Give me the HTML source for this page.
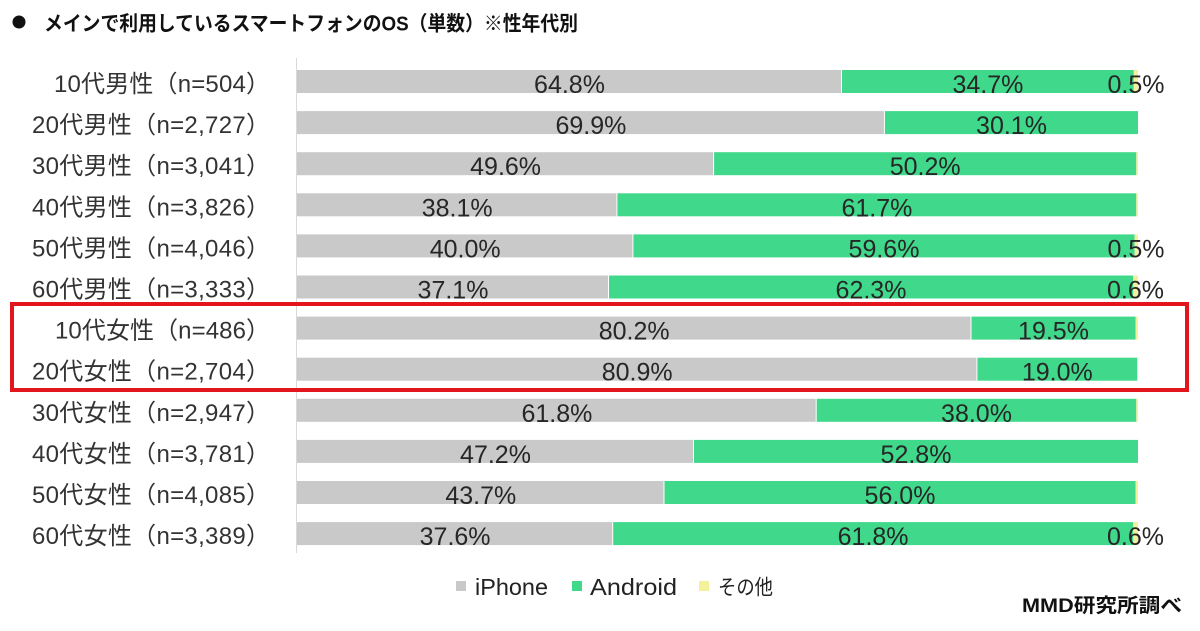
<!DOCTYPE html>
<html>
<head>
<meta charset="utf-8">
<style>
html,body{margin:0;padding:0;background:#fff;}
svg{display:block;}
text{font-family:"Liberation Sans","Noto Sans CJK JP",sans-serif;}
</style>
</head>
<body>
<svg width="1200" height="631" viewBox="0 0 1200 631" xmlns="http://www.w3.org/2000/svg">
<rect x="0" y="0" width="1200" height="631" fill="#fff"/>
<!-- Title -->
<circle cx="19" cy="22" r="6.5" fill="#111"/>
<text x="44" y="30.5" font-size="20.5" font-weight="bold" fill="#111" textLength="534" lengthAdjust="spacingAndGlyphs">メインで利用しているスマートフォンのOS（単数）※性年代別</text>

<!-- axis -->
<line x1="296.5" y1="58" x2="296.5" y2="553" stroke="#d9d9d9" stroke-width="1"/>

<g fill="#333" font-size="24">
<text x="54" y="92" textLength="216" lengthAdjust="spacing">10代男性（n=504）</text>
<text x="32" y="133.1" textLength="238" lengthAdjust="spacing">20代男性（n=2,727）</text>
<text x="32" y="174.2" textLength="238" lengthAdjust="spacing">30代男性（n=3,041）</text>
<text x="32" y="215.3" textLength="238" lengthAdjust="spacing">40代男性（n=3,826）</text>
<text x="32" y="256.4" textLength="238" lengthAdjust="spacing">50代男性（n=4,046）</text>
<text x="32" y="297.5" textLength="238" lengthAdjust="spacing">60代男性（n=3,333）</text>
<text x="55" y="338.6" textLength="215" lengthAdjust="spacing">10代女性（n=486）</text>
<text x="32" y="379.7" textLength="238" lengthAdjust="spacing">20代女性（n=2,704）</text>
<text x="32" y="420.8" textLength="238" lengthAdjust="spacing">30代女性（n=2,947）</text>
<text x="32" y="461.9" textLength="238" lengthAdjust="spacing">40代女性（n=3,781）</text>
<text x="32" y="503" textLength="238" lengthAdjust="spacing">50代女性（n=4,085）</text>
<text x="32" y="544.1" textLength="238" lengthAdjust="spacing">60代女性（n=3,389）</text>
</g>

<!-- bars -->
<g>
<rect x="297" y="70" width="544" height="23" fill="#c9c9c9"/>
<rect x="842" y="70" width="291.8" height="23" fill="#40d88a"/>
<rect x="1133.8" y="70" width="4.2" height="23" fill="#f4f09c"/>

<rect x="297" y="111.1" width="586.9" height="23" fill="#c9c9c9"/>
<rect x="884.9" y="111.1" width="253.1" height="23" fill="#40d88a"/>

<rect x="297" y="152.2" width="416.1" height="23" fill="#c9c9c9"/>
<rect x="714.1" y="152.2" width="422.2" height="23" fill="#40d88a"/>
<rect x="1136.3" y="152.2" width="1.7" height="23" fill="#f4f09c"/>

<rect x="297" y="193.3" width="319.4" height="23" fill="#c9c9c9"/>
<rect x="617.4" y="193.3" width="518.9" height="23" fill="#40d88a"/>
<rect x="1136.3" y="193.3" width="1.7" height="23" fill="#f4f09c"/>

<rect x="297" y="234.4" width="335.4" height="23" fill="#c9c9c9"/>
<rect x="633.4" y="234.4" width="501.2" height="23" fill="#40d88a"/>
<rect x="1134.6" y="234.4" width="3.4" height="23" fill="#f4f09c"/>

<rect x="297" y="275.5" width="311" height="23" fill="#c9c9c9"/>
<rect x="609" y="275.5" width="524" height="23" fill="#40d88a"/>
<rect x="1133" y="275.5" width="5" height="23" fill="#f4f09c"/>

<rect x="297" y="316.6" width="673.5" height="23" fill="#c9c9c9"/>
<rect x="971.5" y="316.6" width="164" height="23" fill="#40d88a"/>
<rect x="1135.5" y="316.6" width="2.5" height="23" fill="#f4f09c"/>

<rect x="297" y="357.7" width="679.4" height="23" fill="#c9c9c9"/>
<rect x="977.4" y="357.7" width="159.8" height="23" fill="#40d88a"/>
<rect x="1137.2" y="357.7" width="0.8" height="23" fill="#f4f09c"/>

<rect x="297" y="398.8" width="518.7" height="23" fill="#c9c9c9"/>
<rect x="816.7" y="398.8" width="319.6" height="23" fill="#40d88a"/>
<rect x="1136.3" y="398.8" width="1.7" height="23" fill="#f4f09c"/>

<rect x="297" y="439.9" width="396" height="23" fill="#c9c9c9"/>
<rect x="694" y="439.9" width="444" height="23" fill="#40d88a"/>

<rect x="297" y="481" width="366.5" height="23" fill="#c9c9c9"/>
<rect x="664.5" y="481" width="471" height="23" fill="#40d88a"/>
<rect x="1135.5" y="481" width="2.5" height="23" fill="#f4f09c"/>

<rect x="297" y="522.1" width="315.2" height="23" fill="#c9c9c9"/>
<rect x="613.2" y="522.1" width="519.8" height="23" fill="#40d88a"/>
<rect x="1133" y="522.1" width="5" height="23" fill="#f4f09c"/>
</g>

<!-- value labels -->
<g font-size="25" fill="#262626" text-anchor="middle">
<text x="569.5" y="93">64.8%</text>
<text x="987.9" y="93">34.7%</text>
<text x="1136" y="93">0.5%</text>

<text x="590.9" y="134.1">69.9%</text>
<text x="1011.5" y="134.1">30.1%</text>

<text x="505.6" y="175.2">49.6%</text>
<text x="925.2" y="175.2">50.2%</text>

<text x="457.2" y="216.3">38.1%</text>
<text x="876.9" y="216.3">61.7%</text>

<text x="465.2" y="257.4">40.0%</text>
<text x="884" y="257.4">59.6%</text>
<text x="1136" y="257.4">0.5%</text>

<text x="453" y="298.5">37.1%</text>
<text x="871" y="298.5">62.3%</text>
<text x="1135.5" y="298.5">0.6%</text>

<text x="634.2" y="339.6">80.2%</text>
<text x="1053.5" y="339.6">19.5%</text>

<text x="637.2" y="380.7">80.9%</text>
<text x="1057.3" y="380.7">19.0%</text>

<text x="556.9" y="421.8">61.8%</text>
<text x="976.5" y="421.8">38.0%</text>

<text x="495.5" y="462.9">47.2%</text>
<text x="916" y="462.9">52.8%</text>

<text x="480.8" y="504">43.7%</text>
<text x="900" y="504">56.0%</text>

<text x="455.1" y="545.1">37.6%</text>
<text x="873.1" y="545.1">61.8%</text>
<text x="1135.5" y="545.1">0.6%</text>
</g>

<!-- red highlight box -->
<rect x="12" y="304" width="1175" height="86" fill="none" stroke="#e3161f" stroke-width="4"/>

<!-- legend -->
<rect x="456" y="581" width="10" height="10" fill="#c9c9c9"/>
<text x="475" y="595" font-size="23" fill="#222" textLength="73" lengthAdjust="spacingAndGlyphs">iPhone</text>
<rect x="572" y="581" width="10" height="10" fill="#40d88a"/>
<text x="590" y="595" font-size="23" fill="#222" textLength="87" lengthAdjust="spacingAndGlyphs">Android</text>
<rect x="699" y="581" width="10" height="10" fill="#f4f09c"/>
<text x="718" y="594.5" font-size="21" fill="#222" textLength="55" lengthAdjust="spacingAndGlyphs">その他</text>

<!-- source -->
<text x="1022" y="612" font-size="19.5" font-weight="bold" fill="#111" textLength="160" lengthAdjust="spacingAndGlyphs">MMD研究所調べ</text>
</svg>
</body>
</html>
